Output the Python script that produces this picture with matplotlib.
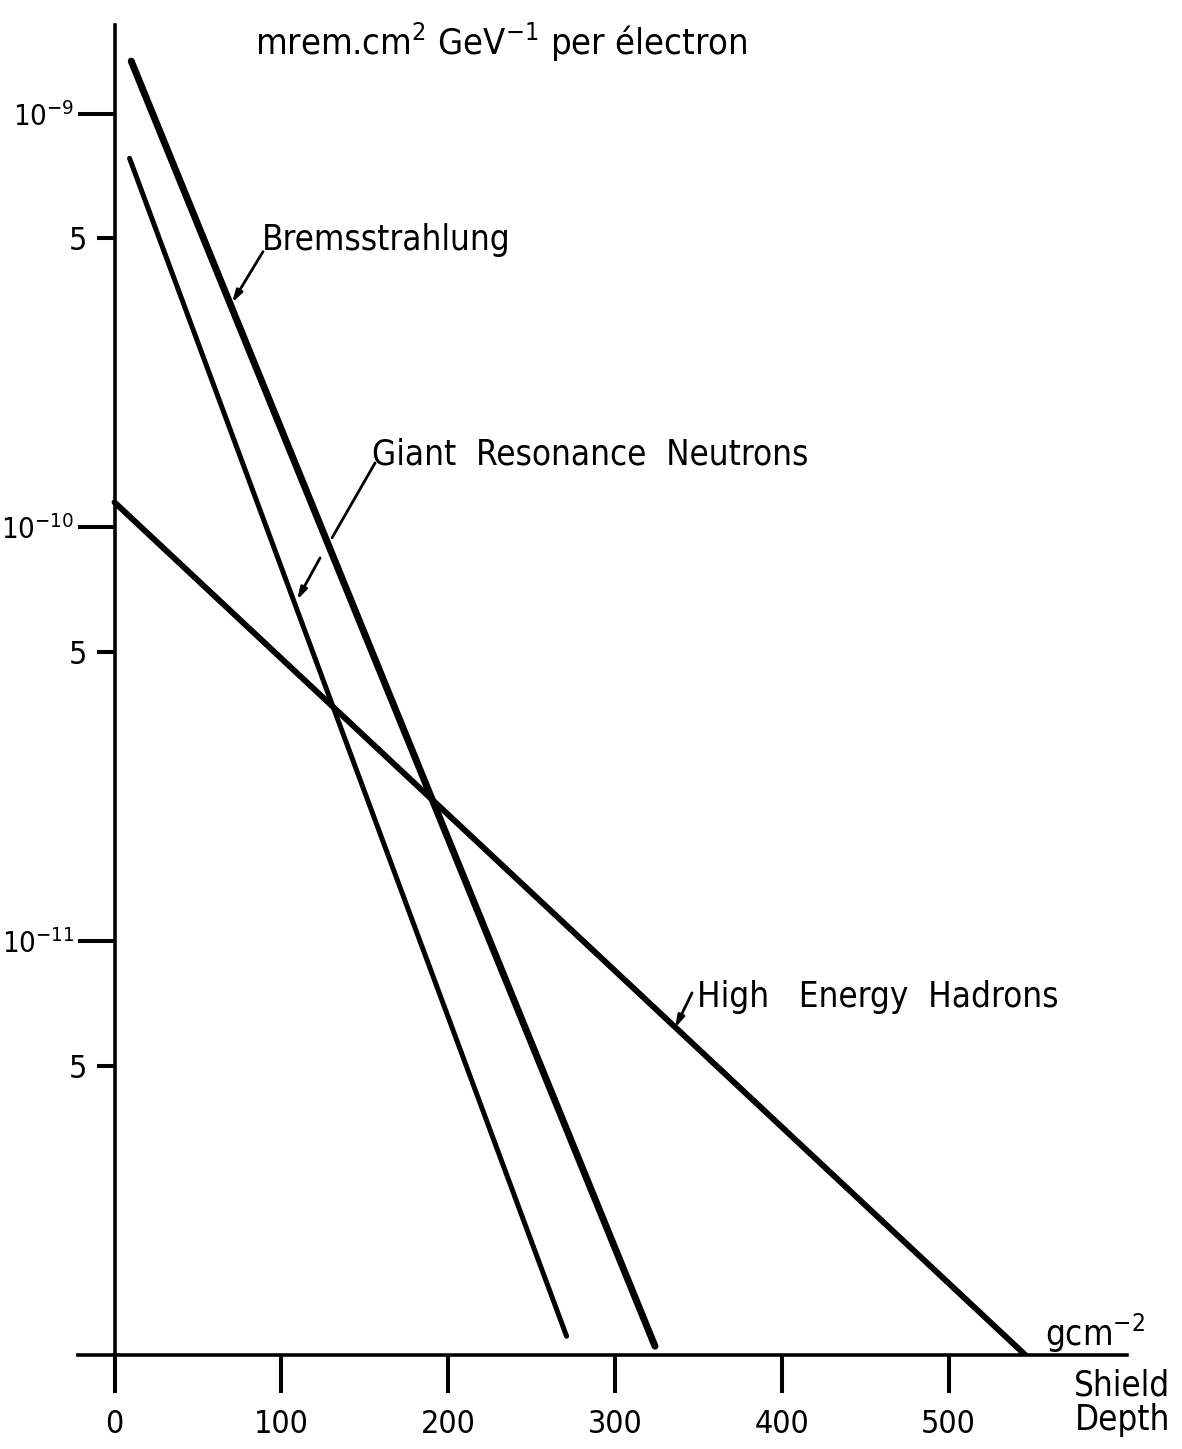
import matplotlib
matplotlib.use("Agg")
import matplotlib.pyplot as plt

# values (shield depth in g cm^-2, dose per electron)
depth_brems = [10, 324]
dose_brems = [1.34e-9, 1.05e-12]
depth_giant = [9, 271]
dose_giant = [7.8e-10, 1.11e-12]
depth_hadron = [0, 546]
dose_hadron = [1.15e-10, 1.0e-12]

x_ticks = [0, 100, 200, 300, 400, 500]
y_major = [1e-11, 1e-10, 1e-9]
y_major_labels = [r"$\mathregular{10^{-11}}$", r"$\mathregular{10^{-10}}$",
                  r"$\mathregular{10^{-9}}$"]
y_minor = [5e-12, 5e-11, 5e-10]
y_minor_labels = ["5", "5", "5"]

plt.rcParams["font.family"] = ["DejaVu Sans"]
plt.rcParams["font.stretch"] = "condensed"

fig = plt.figure(figsize=(11.82, 14.49), dpi=100)
ax = fig.add_axes([0.066, 0.0649, 0.8875, 0.918])
ax.set_yscale("log")
ax.set_xlim(-21.9, 607)
ax.set_ylim(1e-12, 1.64e-9)

ax.plot(depth_brems, dose_brems, color="black", lw=5, solid_capstyle="round")
ax.plot(depth_giant, dose_giant, color="black", lw=3.6, solid_capstyle="round")
ax.plot(depth_hadron, dose_hadron, color="black", lw=4.3, solid_capstyle="round")

# axes: y axis sits at depth 0, x axis runs a bit past it on the left
for side in ["top", "right"]:
    ax.spines[side].set_visible(False)
ax.spines["left"].set_position(("data", 0))
ax.spines["left"].set_linewidth(2.6)
ax.spines["bottom"].set_linewidth(2.6)

ax.set_xticks(x_ticks)
ax.tick_params(axis="x", direction="out", length=27, width=2.9, pad=12, labelsize=23)
ax.set_yticks(y_major, y_major_labels)
ax.set_yticks(y_minor, y_minor_labels, minor=True)
ax.tick_params(axis="y", which="major", length=27, width=2.9, pad=2, labelsize=21)
ax.tick_params(axis="y", which="minor", length=13, width=2.9, pad=7, labelsize=23)

# curve labels with leader lines
lead = dict(arrowstyle="-|>,head_length=0.7,head_width=0.2", lw=2.0,
            color="black", shrinkA=0, shrinkB=0)
ax.text(88.4, 4.69e-10, "Bremsstrahlung", fontsize=25, va="baseline")
ax.annotate("", xy=(70.4, 3.49e-10), xytext=(89.0, 4.64e-10), arrowprops=lead)

ax.text(154.4, 1.416e-10, "Giant  Resonance  Neutrons", fontsize=25, va="baseline")
ax.annotate("", xy=(130.4, 9.44e-11), xytext=(156.2, 1.432e-10),
            arrowprops=dict(arrowstyle="-", lw=2.0, color="black", shrinkA=0, shrinkB=0))
ax.annotate("", xy=(109.4, 6.68e-11), xytext=(123.2, 8.44e-11), arrowprops=lead)

ax.text(349.2, 6.94e-12, "High   Energy  Hadrons", fontsize=25, va="baseline")
ax.annotate("", xy=(336.0, 6.17e-12), xytext=(346.2, 7.50e-12), arrowprops=lead)

# units
fig.text(255 / 1182, 1 - 55 / 1449,
         r"mrem.cm$\mathregular{^2}$ GeV$\mathregular{^{-1}}$ per électron",
         fontsize=26, va="baseline")
fig.text(1045 / 1182, 1 - 1346 / 1449, r"gcm$\mathregular{^{-2}}$", fontsize=25,
         va="baseline")
fig.text(1170 / 1182, 1 - 1395 / 1449, "Shield", fontsize=25, va="baseline", ha="right")
fig.text(1170 / 1182, 1 - 1430 / 1449, "Depth", fontsize=25, va="baseline", ha="right")

fig.savefig("out.png", dpi=100)
